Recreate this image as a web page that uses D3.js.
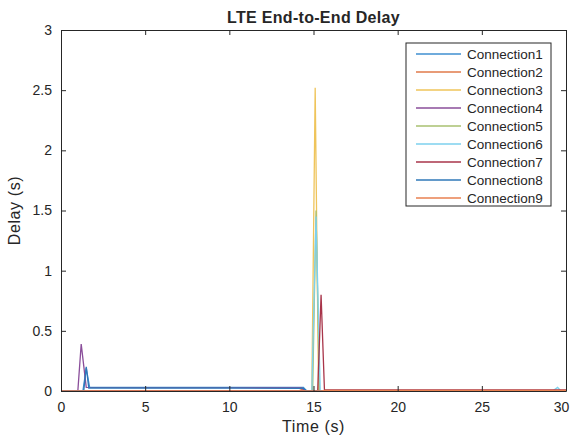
<!DOCTYPE html>
<html>
<head>
<meta charset="utf-8">
<script src="https://cdn.jsdelivr.net/npm/d3@7"></script>
<style>
  body { margin: 0; background: #fff; }
  text { font-family: "Liberation Sans", Arial, sans-serif; fill: #262626; }
</style>
</head>
<body>
<div id="chart"></div>
<script>
// data: [time (s), delay (s)]
const conn1 = [[0, 0], [1.3, 0], [1.5, 0.19], [1.7, 0.03], [5, 0.03], [10, 0.03], [14.4, 0.03], [14.6, 0], [30, 0]];
const conn2 = [[0, 0], [14.1, 0], [14.3, 0.012], [14.5, 0], [30, 0]];
const conn3 = [[0, 0], [14.9, 0], [15.1, 2.52], [15.3, 0], [30, 0]];
const conn4 = [[0, 0], [1.0, 0], [1.2, 0.39], [1.5, 0.03], [5, 0.028], [10, 0.028], [14.3, 0.025], [14.5, 0], [30, 0]];
const conn5 = [[0, 0], [14.95, 0], [15.15, 1.5], [15.35, 0], [30, 0]];
const conn6 = [[0, 0], [14.9, 0], [15.15, 1.45], [15.4, 0], [29.2, 0], [29.5, 0.03], [29.7, 0], [30, 0]];
const conn7 = [[0, 0], [15.25, 0], [15.45, 0.8], [15.65, 0.01], [20, 0.01], [25, 0.01], [30, 0.01]];
const conn8 = [[0, 0], [1.35, 0], [1.5, 0.2], [1.65, 0.025], [5, 0.025], [10, 0.025], [14.4, 0.022], [14.6, 0], [30, 0]];
const conn9 = [[0, 0], [15.5, 0], [15.7, 0.006], [30, 0.006]];

const seriesNames = ["Connection1", "Connection2", "Connection3", "Connection4", "Connection5",
                     "Connection6", "Connection7", "Connection8", "Connection9"];
const seriesData = [conn1, conn2, conn3, conn4, conn5, conn6, conn7, conn8, conn9];
const xTicks = [0, 5, 10, 15, 20, 25, 30];
const yTicks = [0, 0.5, 1, 1.5, 2, 2.5, 3];

const colors = ["#3f8fd0", "#e07a4a", "#efc45a", "#8a4e9a", "#a8c070",
                "#7dd0ee", "#a8354a", "#2f78b8", "#e88050"];

const w = 572, h = 438;
const padL = 61, padR = 566, padT = 30, padB = 391;

const svg = d3.select("#chart").append("svg")
  .attr("width", w).attr("height", h);

const x = d3.scaleLinear().domain([0, 30]).range([padL, padR]);
const y = d3.scaleLinear().domain([0, 3]).range([padB, padT]);

// lines
const line = d3.line().x(d => x(d[0])).y(d => y(d[1]));
seriesData.forEach((s, i) => {
  svg.append("path")
    .datum(s)
    .attr("fill", "none")
    .attr("stroke", colors[i])
    .attr("stroke-width", 1.3)
    .attr("d", line);
});

// axes (matlab style: ticks inside, box)
const xAxis = d3.axisBottom(x).tickValues(xTicks).tickSizeInner(-5).tickSizeOuter(0).tickPadding(11);
const yAxis = d3.axisLeft(y).tickValues(yTicks).tickSizeInner(-5).tickSizeOuter(0).tickPadding(9)
  .tickFormat(d3.format("~g"));
const xTop = d3.axisTop(x).tickValues(xTicks).tickSizeInner(-5).tickSizeOuter(0).tickFormat("");
const yRight = d3.axisRight(y).tickValues(yTicks).tickSizeInner(-5).tickSizeOuter(0).tickFormat("");

const gx = svg.append("g").attr("transform", "translate(0," + padB + ")").call(xAxis);
const gy = svg.append("g").attr("transform", "translate(" + padL + ",0)").call(yAxis);
const gt = svg.append("g").attr("transform", "translate(0," + padT + ")").call(xTop);
const gr = svg.append("g").attr("transform", "translate(" + padR + ",0)").call(yRight);

[gx, gy, gt, gr].forEach(g => {
  g.selectAll("path").attr("stroke", "#262626");
  g.selectAll("line").attr("stroke", "#262626");
  g.selectAll("text").style("font-size", "14px").style("fill", "#262626")
    .style("font-family", "Liberation Sans, Arial, sans-serif");
});
// the last x label sits at the window edge; nudge it in so it stays readable
gx.selectAll(".tick text").filter(d => d === 30).attr("dx", "-5");

// title and labels
svg.append("text")
  .attr("x", (padL + padR) / 2).attr("y", 23)
  .attr("text-anchor", "middle")
  .style("font-size", "16px").style("font-weight", "bold")
  .style("letter-spacing", "0.3px")
  .text("LTE End-to-End Delay");

svg.append("text")
  .attr("x", (padL + padR) / 2).attr("y", 432)
  .attr("text-anchor", "middle")
  .style("font-size", "16px").style("letter-spacing", "0.6px")
  .text("Time (s)");

svg.append("text")
  .attr("transform", "translate(20," + ((padT + padB) / 2) + ") rotate(-90)")
  .attr("text-anchor", "middle")
  .style("font-size", "16px").style("letter-spacing", "0.6px")
  .text("Delay (s)");

// legend
const lx = 406, ly = 43, lw = 145, lh = 163;
svg.append("rect")
  .attr("x", lx).attr("y", ly).attr("width", lw).attr("height", lh)
  .attr("fill", "#fff").attr("stroke", "#262626").attr("stroke-width", 1);

seriesNames.forEach((name, i) => {
  const yy = ly + 11 + i * 18;
  svg.append("line")
    .attr("x1", lx + 10).attr("x2", lx + 55)
    .attr("y1", yy).attr("y2", yy)
    .attr("stroke", colors[i]).attr("stroke-width", 1.5);
  svg.append("text")
    .attr("x", lx + 61).attr("y", yy + 5)
    .style("font-size", "13.5px")
    .text(name);
});
</script>
</body>
</html>
